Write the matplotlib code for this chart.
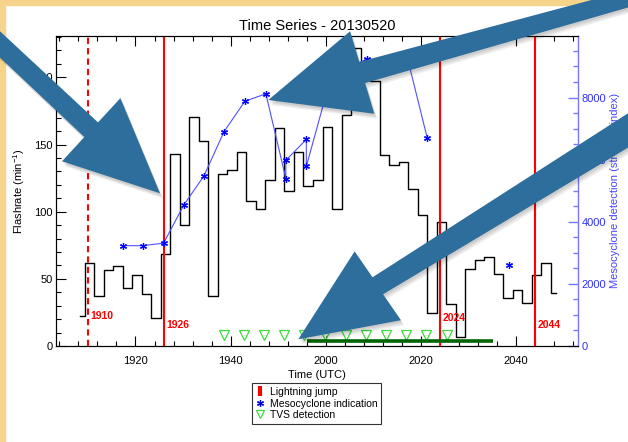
import matplotlib
matplotlib.use("Agg")
import numpy as np
import matplotlib.pyplot as plt
from matplotlib.lines import Line2D
from matplotlib.patches import Polygon, Rectangle
from matplotlib.ticker import MultipleLocator, FixedLocator

plt.rcParams['font.family'] = ['Liberation Sans', 'DejaVu Sans']
plt.rcParams['mathtext.fontset'] = 'custom'
plt.rcParams['mathtext.rm'] = 'Liberation Sans'
plt.rcParams['mathtext.it'] = 'Liberation Sans:italic'
plt.rcParams['mathtext.bf'] = 'Liberation Sans:bold'

# times are minutes after 19:00 UTC
flash_t = [8.3, 10.3, 12.3, 14.3, 16.3, 18.3, 20.3, 22.3, 24.3, 26.3,
           28.3, 30.3, 32.3, 34.3, 36.3, 38.3, 40.3, 42.3, 44.3, 46.3,
           48.3, 50.3, 52.3, 54.3, 56.3, 58.3, 60.3, 62.3, 64.3, 66.3,
           68.3, 70.3, 72.3, 74.3, 76.3, 78.3, 80.3, 82.3, 84.3, 86.3,
           88.3, 90.3, 92.3, 94.3, 96.3, 98.3, 100.3, 102.3, 104.3, 106.3,
           108.3]
flash_rate = [22, 62, 37.5, 56.7, 59.5, 43, 53, 38.6, 20.7, 68.7,
              143, 90, 170.6, 152.5, 37.5, 128.4, 131.3, 144.5, 107.7, 102.2,
              123.9, 162, 115.7, 144.5, 118.9, 123.3, 163, 102, 172, 222,
              205, 197.5, 142.5, 134.5, 137, 117, 97.8, 24.4, 92.3, 31,
              7, 57, 64, 66.6, 53.5, 35.5, 41.5, 31.8, 53, 62,
              39.8]

meso_t = [17.3, 21.5, 25.9, 30.2, 34.4, 38.6, 43.0, 47.4, 51.6, 51.6,
          55.9, 55.9, 60.1, 64.4, 68.6, 72.8, 77.1, 81.3]
meso_v = [3230, 3230, 3310, 4550, 5480, 6900, 7880, 8120, 5390, 5980,
          6650, 5780, 8120, 8900, 9250, 9150, 9300, 6700]
meso_extra_t = [98.5]
meso_extra_v = [2610]

tvs_t = [38.6, 42.8, 47.1, 51.3, 55.5, 59.8, 64.2, 68.4, 72.6, 76.9, 81.1, 85.4]
tvs_v = [8, 8, 8, 8, 8, 8, 8, 8, 8, 8, 8, 8]

track_t = [56.1, 95.1]
track_v = [3.5, 3.5]

jump_t = [10, 26, 84, 104]
jump_lbl = ['1910', '1926', '2024', '2044']
jump_ls = ['dashed', 'solid', 'solid', 'solid']
jump_lbl_y = [22, 16, 21, 16]

xtick_pos = [20, 40, 60, 80, 100]
xtick_lbl = ['1920', '1940', '2000', '2020', '2040']

W, H = 628, 442
fig = plt.figure(figsize=(W / 100, H / 100), dpi=100)
fig.patch.set_facecolor('white')

ax = fig.add_axes([56 / W, 1 - 346 / H, (578.3 - 56) / W, (346 - 35.7) / H])
ax2 = ax.twinx()

ax.step(flash_t, flash_rate, where='mid', color='black', lw=1.0, zorder=3)

for t, lbl, ls, ly in zip(jump_t, jump_lbl, jump_ls, jump_lbl_y):
    if ls == 'dashed':
        ax.axvline(t, color='red', lw=1.5, linestyle=(0, (3, 2)), zorder=4)
    else:
        ax.axvline(t, color='red', lw=1.5, zorder=4)
    ax.text(t + 0.5, ly, lbl, color='red', fontweight='bold', fontsize=7.5,
            ha='left', va='center', zorder=5)

ax.plot(tvs_t, tvs_v, linestyle='none', marker='v', ms=7, mfc='none',
        mec='#3ddc3d', mew=0.9, zorder=4)
ax.plot(track_t, track_v, color='#006400', lw=2.6, solid_capstyle='butt', zorder=4)

ax2.plot(meso_t, meso_v, color='#5050ff', lw=0.8, marker=(6, 2, 0), ms=5,
         mec='#0000ff', mew=0.9)
ax2.plot(meso_extra_t, meso_extra_v, linestyle='none', marker=(6, 2, 0), ms=5,
         mec='#0000ff', mew=0.9)

ax.set_xlim(3.3, 113.05)
ax.set_ylim(0, 231)
ax2.set_ylim(0, 9990)

ax.xaxis.set_major_locator(FixedLocator(xtick_pos))
ax.set_xticklabels(xtick_lbl)
ax.xaxis.set_minor_locator(MultipleLocator(4))
ax.yaxis.set_major_locator(MultipleLocator(50))
ax.yaxis.set_minor_locator(MultipleLocator(10))
ax2.yaxis.set_major_locator(FixedLocator([0, 2000, 4000, 6000, 8000]))
ax2.yaxis.set_minor_locator(MultipleLocator(500))

ax.tick_params(axis='x', which='both', direction='in', top=True, labelsize=8, pad=7)
ax.tick_params(axis='y', which='both', direction='in', right=False, labelsize=8, pad=2.5)
ax.tick_params(which='major', length=7.5, width=0.8)
ax.tick_params(which='minor', length=3.5, width=0.8)
ax2.tick_params(axis='y', which='both', direction='in', colors='#7777ff',
                labelcolor='#3030ff', labelsize=8, pad=2.5, width=1)
ax2.tick_params(which='major', length=7.5)
ax2.tick_params(which='minor', length=3.5)

for s in ['left', 'top', 'bottom']:
    ax.spines[s].set_linewidth(0.8)
ax2.spines['right'].set_color('#7777ff')
ax2.spines['right'].set_linewidth(1.0)
ax.spines['right'].set_visible(False)

ax.set_title('Time Series - 20130520', fontsize=10.5, pad=4)
ax.set_xlabel('Time (UTC)', fontsize=8, labelpad=3)
ax.set_ylabel('Flashrate (min$^{-1}$)', fontsize=8)
ax.yaxis.set_label_coords(-0.056, 0.5)
ax2.set_ylabel('Mesocyclone detection (strength index)', fontsize=8, color='#4444ff')
ax2.yaxis.set_label_coords(1.0607, 0.5)

handles = [
    Line2D([], [], color='red', marker='|', ms=7, mew=3, linestyle='none'),
    Line2D([], [], color='#0000ff', marker=(6, 2, 0), ms=5, mew=0.9, linestyle='none'),
    Line2D([], [], color='#3ddc3d', marker='v', ms=6, mfc='none', mew=0.9, linestyle='none'),
]
leg = fig.legend(handles, ['Lightning jump', 'Mesocyclone indication', 'TVS detection'],
                 loc='upper center', bbox_to_anchor=(316.3 / W, 1 - 383.3 / H),
                 bbox_transform=fig.transFigure, fontsize=7.5, frameon=True,
                 fancybox=False, edgecolor='black', borderpad=0.35, labelspacing=0.15,
                 handlelength=0.9, handletextpad=0.45, borderaxespad=0)
leg.get_frame().set_linewidth(0.8)

# page frame and overlaid arrows
fig.add_artist(Rectangle((0, 1 - 5 / H), 1, 5 / H, transform=fig.transFigure,
                         color='#f7d48c', zorder=5))
fig.add_artist(Rectangle((0, 0), 5 / W, 1, transform=fig.transFigure,
                         color='#f7d48c', zorder=5))


def arrow_pts(tail, base, tip, w_tail, w_base, w_head):
    tail, base, tip = (np.array(p, dtype=float) for p in (tail, base, tip))
    s = base - tail
    s /= np.linalg.norm(s)
    ns = np.array([-s[1], s[0]])
    h = tip - base
    h /= np.linalg.norm(h)
    nh = np.array([-h[1], h[0]])
    return [tail + ns * w_tail / 2, base + ns * w_base / 2, base + nh * w_head / 2, tip,
            base - nh * w_head / 2, base - ns * w_base / 2, tail - ns * w_tail / 2]


arrows = [
    ((-15, 30.3), (91.2, 129.7), (160, 193.3), 19, 20, 86),
    ((660, -10), (362.2, 72.5), (268.3, 100), 16, 22, 86),
    ((650, 117), (377.8, 285.8), (298.3, 339.3), 30, 20, 83),
]
for a in arrows:
    pts = arrow_pts(*a)
    # soft shadow built from a few faint offset copies
    for dx, dy in [(1, 2), (2, 3.5), (3, 5)]:
        shadow = [((x + dx) / W, 1 - (y + dy) / H) for x, y in pts]
        fig.add_artist(Polygon(shadow, closed=True, transform=fig.transFigure,
                               facecolor='black', alpha=0.07, edgecolor='none', zorder=9))
    fig_pts = [(x / W, 1 - y / H) for x, y in pts]
    fig.add_artist(Polygon(fig_pts, closed=True, transform=fig.transFigure,
                           facecolor='#2d6e9c', edgecolor='none', zorder=10))

fig.savefig('out.png', dpi=100)
